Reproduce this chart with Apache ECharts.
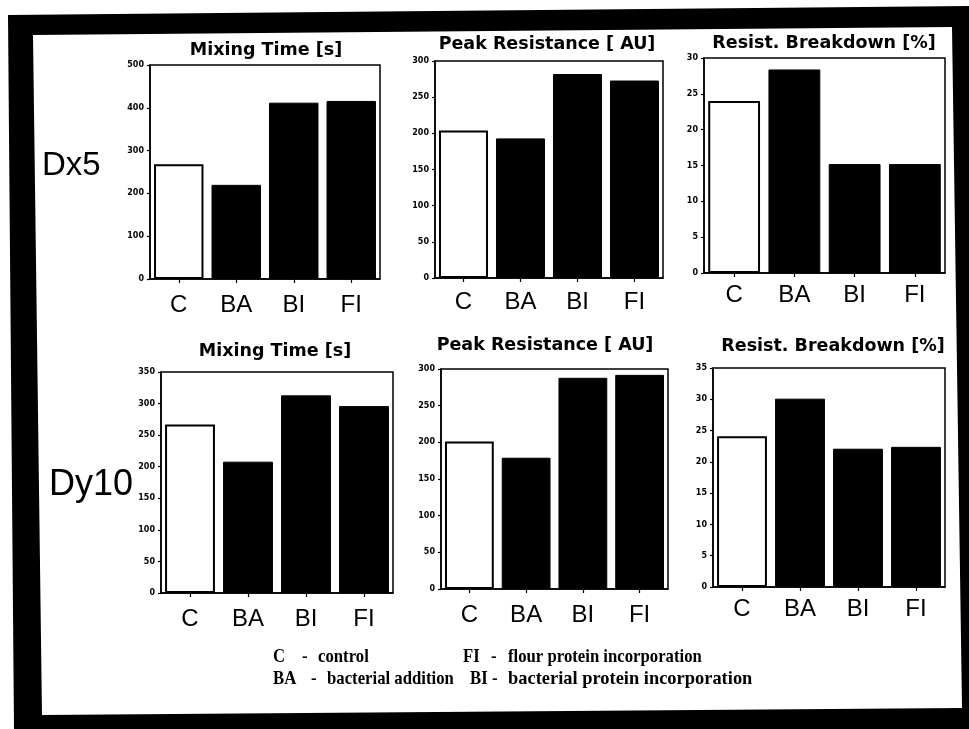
<!DOCTYPE html>
<html><head><meta charset="utf-8">
<script src="https://cdn.jsdelivr.net/npm/echarts@6/dist/echarts.min.js"></script>
<style>html,body{margin:0;padding:0;background:#fff}#c{width:969px;height:729px}</style>
</head><body><div id="c"></div>
<script>
// ---- data ----
const categories = ['C', 'BA', 'BI', 'FI'];
const panelTitles = ['Mixing Time [s]', 'Peak Resistance [ AU]', 'Resist. Breakdown [%]',
                     'Mixing Time [s]', 'Peak Resistance [ AU]', 'Resist. Breakdown [%]'];
const rowLabels = ['Dx5', 'Dy10'];
const dx5Mixing = [268, 220, 412, 416];
const dx5Peak = [204, 193, 282, 273];
const dx5Breakdown = [24.0, 28.4, 15.2, 15.2];
const dy10Mixing = [267, 208, 313, 296];
const dy10Peak = [201, 179, 288, 292];
const dy10Breakdown = [24.1, 30.1, 22.1, 22.4];
const yMax = [500, 300, 30, 350, 300, 35];
const yInterval = [100, 50, 5, 50, 50, 5];
const legendCodes = ['C', 'FI', 'BA', 'BI'];
const legendTexts = ['control', 'flour protein incorporation', 'bacterial addition', 'bacterial protein incorporation'];

const panelData = [dx5Mixing, dx5Peak, dx5Breakdown, dy10Mixing, dy10Peak, dy10Breakdown];

// ---- layout ----
const grids = [
  {left: 150, top: 65, width: 230, height: 214},
  {left: 435, top: 61, width: 228, height: 217},
  {left: 704, top: 58, width: 241, height: 215},
  {left: 161, top: 372, width: 232, height: 221},
  {left: 441, top: 369, width: 227, height: 220},
  {left: 713, top: 368, width: 232, height: 219}
];
const labelMargins = [14, 12, 10, 14, 14, 10];
const titlePos = [[266, 41], [547, 35], [824, 34], [275, 342], [545, 336], [833, 337]];
const rowLabelPos = [[42, 166, 33], [49, 485, 36]];
const legendPos = [
  [273, 302, 318, 657], [463, 491, 508, 657],
  [273, 311, 327, 679], [470, 492, 508, 679]
];
const legendScale = [0.88, 0.88, 0.88, 0.97];

const chart = echarts.init(document.getElementById('c'), null, {renderer: 'canvas'});

const grid = grids.map(g => Object.assign({
  show: true, borderColor: '#000', borderWidth: 1.5, backgroundColor: 'transparent', containLabel: false
}, g));

const xAxis = grids.map((g, i) => ({
  type: 'category', gridIndex: i, data: categories,
  axisLine: {show: true, lineStyle: {color: '#000', width: 1.5}},
  axisTick: {show: true, alignWithLabel: true, length: 4, lineStyle: {color: '#000', width: 1.2}},
  axisLabel: {color: '#000', fontFamily: 'Liberation Sans', fontSize: 24, margin: labelMargins[i]}
}));

const yAxis = grids.map((g, i) => ({
  type: 'value', gridIndex: i, min: 0, max: yMax[i], interval: yInterval[i],
  splitLine: {show: false},
  axisLine: {show: true, lineStyle: {color: '#000', width: 1.5}},
  axisTick: {show: true, length: 3, lineStyle: {color: '#000', width: 1.2}},
  axisLabel: {color: '#000', fontFamily: 'DejaVu Sans', fontWeight: 'bold', fontSize: 8, margin: 6}
}));

const series = panelData.map((arr, i) => ({
  type: 'bar', xAxisIndex: i, yAxisIndex: i, barCategoryGap: '14%',
  data: arr.map((v, k) => k === 0
    ? {value: v, itemStyle: {color: '#fff', borderColor: '#000', borderWidth: 2}}
    : {value: v, itemStyle: {color: '#000', borderColor: '#000', borderWidth: 1}}),
  animation: false
}));

const title = panelTitles.map((t, i) => ({
  text: t, left: titlePos[i][0], top: titlePos[i][1], textAlign: 'center', padding: 0,
  textStyle: {fontFamily: 'DejaVu Sans', fontWeight: 'bold', fontSize: 17.5, color: '#000'}
}));

const elements = [
  {type: 'polygon', z: -20, silent: true,
   shape: {points: [[8, 15], [969, 6], [969, 729], [14, 729]]}, style: {fill: '#000'}},
  {type: 'polygon', z: -19, silent: true,
   shape: {points: [[33, 35], [952, 27], [962, 708], [42, 715]]}, style: {fill: '#fff'}}
];
rowLabels.forEach((t, i) => {
  elements.push({type: 'text', x: rowLabelPos[i][0], y: rowLabelPos[i][1], z: 10,
    style: {text: t, fill: '#000', font: rowLabelPos[i][2] + 'px "Liberation Sans"',
      textAlign: 'left', textVerticalAlign: 'middle', align: 'left', verticalAlign: 'middle'}});
});
legendCodes.forEach((c, i) => {
  const p = legendPos[i];
  const font = 'bold 19px "Liberation Serif"';
  [[c, p[0], 0.88], ['-', p[1], 0.88], [legendTexts[i], p[2], legendScale[i]]].forEach(([t, x, s]) => {
    elements.push({type: 'text', x: x, y: p[3], z: 10, scaleX: s,
      style: {text: t, fill: '#000', font: font, textAlign: 'left', textVerticalAlign: 'middle', align: 'left', verticalAlign: 'middle'}});
  });
});

chart.setOption({
  backgroundColor: '#fff',
  animation: false,
  title: title,
  grid: grid,
  xAxis: xAxis,
  yAxis: yAxis,
  series: series,
  graphic: {elements: elements}
});
</script>
</body></html>
